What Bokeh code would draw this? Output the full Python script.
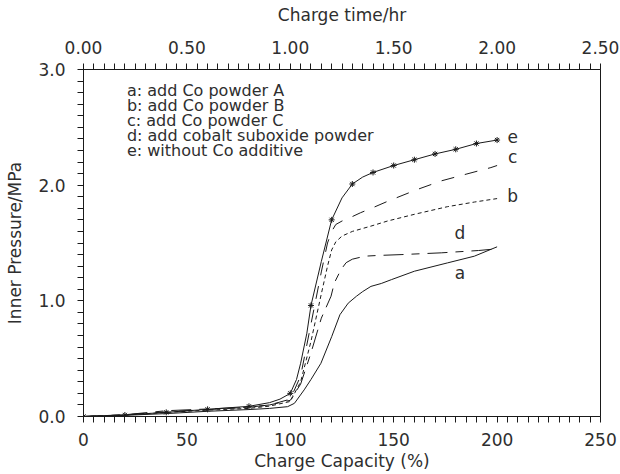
from bokeh.plotting import figure
from bokeh.models import (Range1d, LinearAxis, FixedTicker, PolyAnnotation,
                          CustomJSTickFormatter, ColumnDataSource)
from bokeh.embed import file_html
from bokeh.resources import INLINE
from bokeh.core.properties import value

FONT = "DejaVu Sans"
INK = "#1a1a1a"
TXT = "#2e2e2e"

# ---- data (charge capacity %, inner pressure MPa) ----
a_x = [0, 20, 40, 60, 80, 90, 98.7, 102, 106.7, 110, 114.8, 120, 124, 128, 132, 135, 139, 144, 149, 160, 176, 189, 200]
a_y = [0, 0.01, 0.025, 0.045, 0.06, 0.07, 0.085, 0.114, 0.23, 0.32, 0.46, 0.69, 0.88, 0.98, 1.04, 1.08, 1.125, 1.15, 1.184, 1.256, 1.328, 1.386, 1.467]

b_x = [0, 20, 40, 60, 80, 90, 100, 105, 110, 115, 118, 120, 122, 125, 130, 139, 147, 160, 176, 189, 200]
b_y = [0, 0.012, 0.035, 0.055, 0.07, 0.09, 0.13, 0.3, 0.65, 1.06, 1.30, 1.44, 1.51, 1.56, 1.60, 1.646, 1.69, 1.748, 1.814, 1.854, 1.884]

c_x = [0, 20, 40, 60, 80, 90, 100, 105, 110, 115, 118, 120, 122, 125, 129, 134, 140, 147, 161, 173, 185, 197, 200]
c_y = [0, 0.015, 0.04, 0.06, 0.08, 0.1, 0.15, 0.35, 0.8, 1.25, 1.5, 1.6, 1.66, 1.69, 1.72, 1.762, 1.806, 1.86, 1.96, 2.037, 2.095, 2.152, 2.17]

d_x = [0, 20, 40, 60, 80, 90, 100, 105, 110, 115, 119.7, 121.3, 124.5, 127, 130, 136, 142, 154, 173, 191, 200]
d_y = [0, 0.015, 0.05, 0.065, 0.08, 0.1, 0.14, 0.28, 0.55, 0.85, 1.04, 1.155, 1.27, 1.33, 1.36, 1.386, 1.392, 1.40, 1.415, 1.435, 1.45]

e_x = [0, 20, 40, 60, 80, 90, 95, 100, 103, 105, 108, 110, 115, 120, 125, 130, 135, 140, 150, 160, 170, 180, 190, 200]
e_y = [0, 0.013, 0.036, 0.062, 0.088, 0.12, 0.15, 0.20, 0.32, 0.46, 0.72, 0.96, 1.34, 1.70, 1.89, 2.01, 2.07, 2.11, 2.17, 2.22, 2.27, 2.31, 2.36, 2.39]
e_star_x = [0, 20, 40, 60, 80, 100, 110, 120, 130, 140, 150, 160, 170, 180, 190, 200]

legend_lines = ["a: add Co powder A",
                "b: add Co powder B",
                "c: add Co powder C",
                "d: add cobalt suboxide powder",
                "e: without Co additive"]

curve_labels = ["a", "b", "c", "d", "e"]
curve_label_x = [182, 207.5, 207.5, 182, 207.5]
curve_label_y = [1.24, 1.91, 2.245, 1.585, 2.42]

x_major = [0, 50, 100, 150, 200, 250]
time_major = [0.0, 0.5, 1.0, 1.5, 2.0, 2.5]
y_major = [0.0, 1.0, 2.0, 3.0]
n_minor = 10

X_MAX, Y_MAX, T_MAX = 250.0, 3.0, 2.5
FW, FH = 517, 347
MINOR_LEN = 6   # px
MAJOR_LEN = 10  # px


def all_ticks(major):
    out = []
    for lo, hi in zip(major[:-1], major[1:]):
        step = (hi - lo) / n_minor
        out += [round(lo + k * step, 6) for k in range(n_minor)]
    return out + [major[-1]]


def major_only(step, digits):
    return CustomJSTickFormatter(args=dict(step=step, digits=digits), code="""
        const r = tick / step;
        return Math.abs(r - Math.round(r)) < 1e-6 ? tick.toFixed(digits) : "";
    """)


# ---- figure ----
p = figure(frame_width=FW, frame_height=FH,
           min_border_left=83, min_border_right=20,
           min_border_top=69, min_border_bottom=58,
           x_range=Range1d(0, X_MAX), y_range=Range1d(0, Y_MAX),
           x_axis_location=None, y_axis_location=None,
           output_backend="svg", toolbar_location=None)
p.outline_line_color = INK
p.outline_line_width = 1
p.background_fill_color = "white"
p.border_fill_color = "white"
p.xgrid.visible = False
p.ygrid.visible = False

p.extra_x_ranges = {"time": Range1d(0, T_MAX)}


def style(ax, size="17px"):
    ax.major_tick_out = MINOR_LEN
    ax.major_tick_in = 0
    ax.minor_tick_out = 0
    ax.minor_tick_in = 0
    ax.axis_line_color = INK
    ax.major_tick_line_color = INK
    ax.minor_tick_line_color = None
    ax.axis_line_width = 1
    ax.major_tick_line_width = 1
    ax.major_label_text_font = FONT
    ax.major_label_text_font_size = size
    ax.major_label_text_color = TXT
    ax.axis_label_text_font = FONT
    ax.axis_label_text_font_size = size
    ax.axis_label_text_font_style = "normal"
    ax.axis_label_text_color = TXT


bottom = LinearAxis(axis_label="Charge Capacity (%)",
                    ticker=FixedTicker(ticks=all_ticks(x_major)),
                    formatter=major_only(x_major[1] - x_major[0], 0))
style(bottom)
bottom.major_label_standoff = 10
bottom.axis_label_standoff = 2
p.add_layout(bottom, "below")

left = LinearAxis(axis_label="Inner Pressure/MPa",
                  ticker=FixedTicker(ticks=all_ticks(y_major)),
                  formatter=major_only(y_major[1] - y_major[0], 1))
style(left)
left.major_label_standoff = 12
left.axis_label_standoff = 10
p.add_layout(left, "left")

top = LinearAxis(x_range_name="time", axis_label="Charge time/hr",
                 ticker=FixedTicker(ticks=all_ticks(time_major)),
                 formatter=major_only(time_major[1] - time_major[0], 2))
style(top)
top.major_label_standoff = 10
top.axis_label_standoff = 13
p.add_layout(top, "above")

# ---- longer major tick marks: a stroked comb just outside each frame edge ----
dy = MAJOR_LEN * Y_MAX / FH
dx = MAJOR_LEN * X_MAX / FW


def comb(positions, base, out, horizontal):
    xs, ys = [], []
    for v in positions:
        if horizontal:
            xs += [v, v, v]
            ys += [base, base + out, base]
        else:
            xs += [base, base + out, base]
            ys += [v, v, v]
    return xs, ys


for xs, ys in (comb(x_major, 0.0, -dy, True),
               comb([t * X_MAX / T_MAX for t in time_major], Y_MAX, dy, True),
               comb(y_major, 0.0, -dx, False)):
    p.add_layout(PolyAnnotation(xs=xs, ys=ys, fill_color=None, fill_alpha=0,
                                line_color=INK, line_width=1))

# ---- curves ----
p.line(a_x, a_y, line_color=INK, line_width=1)
p.line(b_x, b_y, line_color=INK, line_width=1, line_dash="4 3")
p.line(c_x, c_y, line_color=INK, line_width=1, line_dash="13 11")
p.line(d_x, d_y, line_color=INK, line_width=1, line_dash="20 8 8 8")
p.line(e_x, e_y, line_color=INK, line_width=1)
e_lookup = dict(zip(e_x, e_y))
p.scatter(e_star_x, [e_lookup[x] for x in e_star_x], marker="asterisk",
          size=6, line_color=INK, line_width=1)

# ---- curve letters ----
lab_src = ColumnDataSource(dict(x=curve_label_x, y=curve_label_y, t=curve_labels))
p.text(x="x", y="y", text="t", source=lab_src, text_font=value(FONT),
       text_font_size="17px", text_color=TXT, text_align="center",
       text_baseline="middle")

# ---- legend text ----
leg_x = [21] * len(legend_lines)
leg_y = [2.82 - 0.13 * i for i in range(len(legend_lines))]
leg_src = ColumnDataSource(dict(x=leg_x, y=leg_y, t=legend_lines))
p.text(x="x", y="y", text="t", source=leg_src, text_font=value(FONT),
       text_font_size="16px", text_color=TXT, text_align="left",
       text_baseline="middle")

open("out.html", "w").write(file_html(p, INLINE))
